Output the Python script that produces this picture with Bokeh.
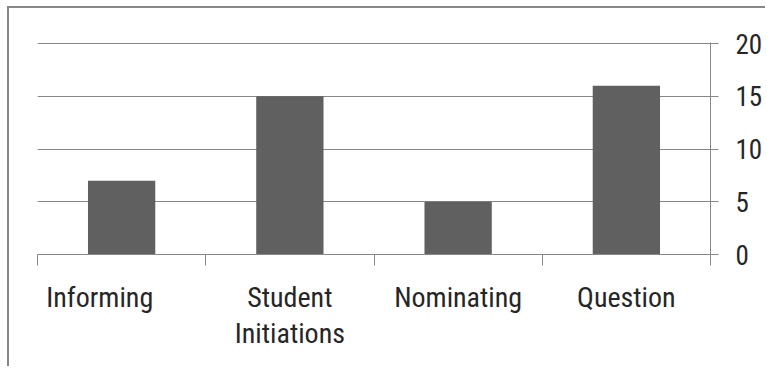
from bokeh.plotting import figure
from bokeh.models import Range1d, FixedTicker, ColumnDataSource
from bokeh.embed import file_html
from bokeh.resources import INLINE

categories = ["Informing", "Student\nInitiations", "Nominating", "Question"]
values = [7, 15, 5, 16]
y_ticks = [0, 5, 10, 15, 20]

GRAY = "#878787"
BAR = "#606060"
FONT = "Roboto Condensed"
TEXT = "#262626"

n = len(categories)
centers = [i + 0.5 for i in range(n)]
label_nudge = [-0.13, 0.0, 0.0, 0.0]
label_pos = [c + d for c, d in zip(centers, label_nudge)]

p = figure(width=758, height=360, output_backend="svg", toolbar_location=None,
           x_range=Range1d(0, n), y_range=Range1d(0, 20.1),
           y_axis_location="right",
           min_border_left=28, min_border_right=57, min_border_top=34, min_border_bottom=114)
p.margin = (6, 0, 0, 7)
p.styles = {"border-top": f"2px solid {GRAY}", "border-left": f"2px solid {GRAY}"}
p.outline_line_color = None
p.background_fill_color = "white"
p.border_fill_color = "white"

src = ColumnDataSource(dict(x=centers, top=values))
p.vbar(x="x", top="top", width=0.4, bottom=0, source=src, fill_color=BAR, line_color=None)

# grid
p.xgrid.visible = False
p.ygrid.ticker = FixedTicker(ticks=y_ticks)
p.ygrid.grid_line_color = GRAY
p.ygrid.grid_line_width = 1

# y axis (right)
ya = p.yaxis[0]
ya.ticker = FixedTicker(ticks=y_ticks)
ya.axis_line_color = GRAY
ya.major_tick_line_color = GRAY
ya.major_tick_out = 8
ya.major_tick_in = 0
ya.minor_tick_line_color = None
ya.major_label_standoff = 17
ya.major_label_text_font = FONT
ya.major_label_text_font_size = "27px"
ya.major_label_text_color = TEXT

# x axis
xa = p.xaxis[0]
xa.ticker = FixedTicker(ticks=label_pos, minor_ticks=list(range(n + 1)))
xa.major_label_overrides = {float(pos): lab for pos, lab in zip(label_pos, categories)}
xa.axis_line_color = GRAY
xa.major_tick_line_color = None
xa.major_tick_out = 0
xa.major_tick_in = 0
xa.minor_tick_line_color = GRAY
xa.minor_tick_out = 11
xa.minor_tick_in = 0
xa.major_label_standoff = 15
xa.major_label_text_font = FONT
xa.major_label_text_font_size = "28px"
xa.major_label_text_line_height = 1.1
xa.major_label_text_color = TEXT

open("out.html", "w").write(file_html(p, INLINE))
